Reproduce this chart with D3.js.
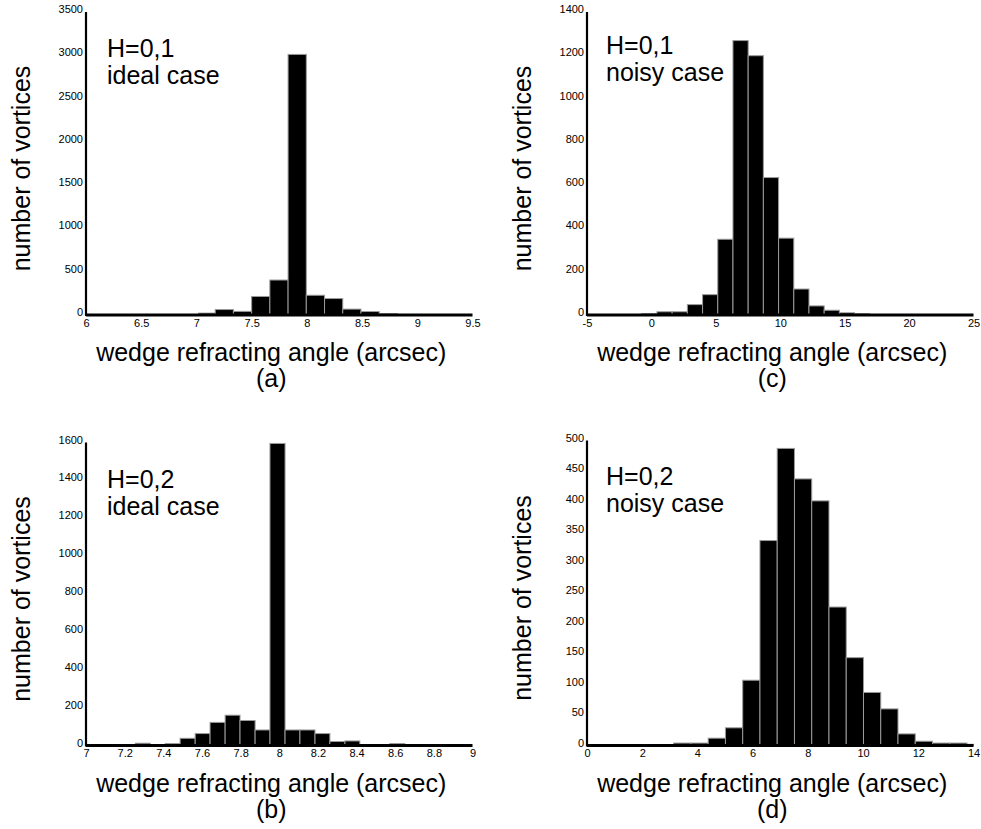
<!DOCTYPE html>
<html>
<head>
<meta charset="utf-8">
<script src="https://cdn.jsdelivr.net/npm/d3@7"></script>
<style>
  body { margin: 0; background: #fff; }
  svg { display: block; }
  text { font-family: Arial, "Liberation Sans", sans-serif; fill: #000; }
</style>
</head>
<body>
<svg id="fig" width="981" height="829"></svg>
<script>
// panel (a): H=0,1 ideal case
const edgesA = [7.02, 7.17, 7.335, 7.50, 7.665, 7.83, 7.995, 8.16, 8.325, 8.49, 8.655, 8.82, 8.985];
const countsA = [22, 63, 42, 214, 404, 3010, 228, 190, 68, 40, 15, 6];
const xTicksA = [6, 6.5, 7, 7.5, 8, 8.5, 9, 9.5];
const yTicksA = [0, 500, 1000, 1500, 2000, 2500, 3000, 3500];

// panel (c): H=0,1 noisy case
const edgesC = [-0.75, 0.43, 1.61, 2.79, 3.97, 5.15, 6.33, 7.51, 8.69, 9.87, 11.05, 12.23, 13.41, 14.59, 15.77, 16.95, 18.13];
const countsC = [7, 15, 15, 48, 94, 350, 1268, 1198, 635, 355, 120, 42, 22, 10, 6, 2];
const xTicksC = [-5, 0, 5, 10, 15, 20, 25];
const yTicksC = [0, 200, 400, 600, 800, 1000, 1200, 1400];

// panel (b): H=0,2 ideal case
const edgesB = [7.255, 7.332, 7.41, 7.487, 7.565, 7.642, 7.72, 7.797, 7.875, 7.952, 8.03, 8.107, 8.185, 8.262, 8.34, 8.417, 8.495, 8.572, 8.65, 8.727];
const countsB = [12, 5, 10, 38, 63, 122, 160, 132, 82, 1595, 82, 82, 63, 21, 24, 5, 5, 10, 3];
const xTicksB = [7, 7.2, 7.4, 7.6, 7.8, 8, 8.2, 8.4, 8.6, 8.8, 9];
const yTicksB = [0, 200, 400, 600, 800, 1000, 1200, 1400, 1600];

// panel (d): H=0,2 noisy case
const edgesD = [3.14, 3.765, 4.39, 5.015, 5.64, 6.265, 6.89, 7.515, 8.14, 8.765, 9.39, 10.015, 10.64, 11.265, 11.89, 12.515, 13.14, 13.765, 14.0];
const countsD = [4, 4, 12, 29, 107, 336, 487, 437, 401, 227, 144, 87, 60, 19, 7, 4, 4, 2];
const xTicksD = [0, 2, 4, 6, 8, 10, 12, 14];
const yTicksD = [0, 50, 100, 150, 200, 250, 300, 350, 400, 450, 500];

const xTitle = "wedge refracting angle (arcsec)";
const yTitle = "number of vortices";

const svg = d3.select("#fig");

function drawPanel(p) {
  const g = svg.append("g").attr("transform", `translate(${p.left},${p.bottom})`);
  const w = 386.5, h = p.h;

  const x = d3.scaleLinear()
    .domain(d3.extent(p.xTicks))
    .range([0, w]);
  const y = d3.scaleLinear()
    .domain([0, d3.max(p.yTicks)])
    .range([0, -h]);

  const bins = p.counts.map((c, i) => ({ x0: p.edges[i], x1: p.edges[i + 1], n: c }));

  g.selectAll("rect.bar")
    .data(bins)
    .join("rect")
    .attr("class", "bar")
    .attr("x", d => x(d.x0))
    .attr("width", d => x(d.x1) - x(d.x0))
    .attr("y", d => y(d.n))
    .attr("height", d => -y(d.n))
    .attr("fill", "#000")
    .attr("stroke", "#9a9a9a")
    .attr("stroke-width", 1);

  // axes: labels only, no tick marks
  const xAxis = g.append("g")
    .call(d3.axisBottom(x).tickValues(p.xTicks).tickSize(0).tickPadding(4).tickFormat(d => String(d)));
  xAxis.select(".domain").remove();
  xAxis.selectAll("text").attr("font-size", 11).attr("font-family", null);

  const yAxis = g.append("g")
    .call(d3.axisLeft(y).tickValues(p.yTicks).tickSize(0).tickPadding(3).tickFormat(d => String(d)));
  yAxis.select(".domain").remove();
  yAxis.selectAll("text").attr("font-size", 11).attr("font-family", null).attr("dy", "0.05em");

  g.append("line")
    .attr("x1", x.range()[0]).attr("x2", x.range()[1])
    .attr("y1", 0).attr("y2", 0)
    .attr("stroke", "#000").attr("stroke-width", 3);
  g.append("line")
    .attr("x1", 0).attr("x2", 0)
    .attr("y1", 1).attr("y2", -h)
    .attr("stroke", "#000").attr("stroke-width", 2.2);

  // in-plot note
  const note = g.append("text").attr("font-size", 25)
    .attr("x", p.noteX).attr("y", p.noteY);
  note.append("tspan").attr("x", p.noteX).text(p.note[0]);
  note.append("tspan").attr("x", p.noteX).attr("dy", 27).text(p.note[1]);

  g.append("text")
    .attr("font-size", 25)
    .attr("text-anchor", "middle")
    .attr("x", w / 2 - 8).attr("y", 46)
    .text(xTitle);
  g.append("text")
    .attr("font-size", 25)
    .attr("text-anchor", "middle")
    .attr("x", w / 2 - 8).attr("y", 72)
    .text(p.tag);

  g.append("text")
    .attr("font-size", 25)
    .attr("text-anchor", "middle")
    .attr("transform", `translate(-56,${-h / 2 + 5}) rotate(-90)`)
    .text(yTitle);
}

drawPanel({ left: 86, bottom: 315, h: 303, edges: edgesA, counts: countsA, xTicks: xTicksA, yTicks: yTicksA,
  note: ["H=0,1", "ideal case"], noteX: 21, noteY: -258, tag: "(a)" });
drawPanel({ left: 587, bottom: 315, h: 303, edges: edgesC, counts: countsC, xTicks: xTicksC, yTicks: yTicksC,
  note: ["H=0,1", "noisy case"], noteX: 19, noteY: -261, tag: "(c)" });
drawPanel({ left: 86, bottom: 745.5, h: 303, edges: edgesB, counts: countsB, xTicks: xTicksB, yTicks: yTicksB,
  note: ["H=0,2", "ideal case"], noteX: 21, noteY: -258, tag: "(b)" });
drawPanel({ left: 587, bottom: 745.5, h: 305, edges: edgesD, counts: countsD, xTicks: xTicksD, yTicks: yTicksD,
  note: ["H=0,2", "noisy case"], noteX: 19, noteY: -261, tag: "(d)" });
</script>
</body>
</html>
